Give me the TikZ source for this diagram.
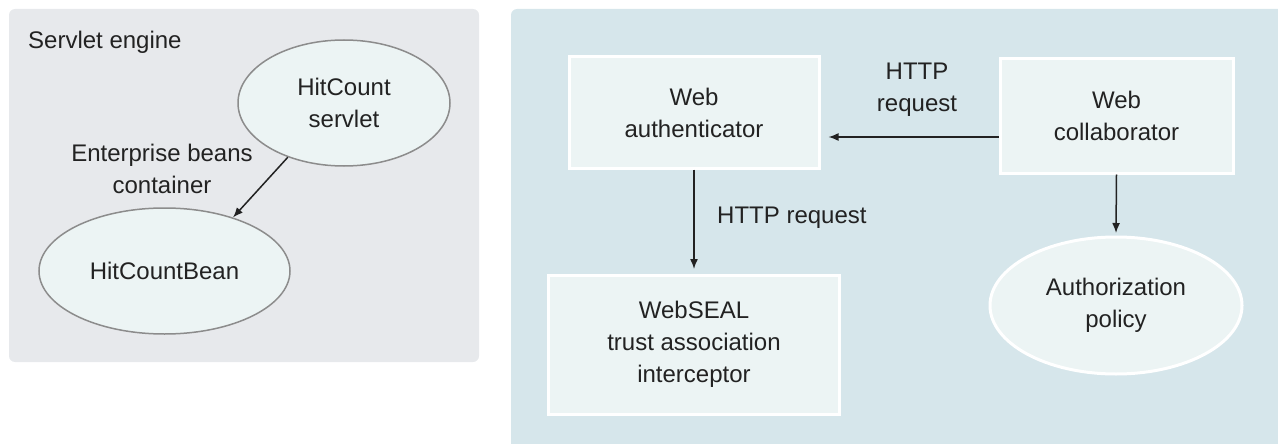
\documentclass[tikz,border=0pt]{standalone}
\usepackage{fontspec}
\setmainfont{Liberation Sans}
\usetikzlibrary{shapes.geometric,arrows.meta}
\definecolor{panelL}{HTML}{E7E9EC}
\definecolor{panelR}{HTML}{D6E6EB}
\definecolor{nodefill}{HTML}{ECF4F4}
\definecolor{ellline}{HTML}{8C8C8C}
\definecolor{txt}{HTML}{222222}
\tikzset{
  x=1pt,y=-1pt,
  every node/.style={font=\fontsize{24}{32}\selectfont, text=txt, align=center, inner sep=0pt},
  lellipse/.style={ellipse, draw=ellline, line width=1.5pt, fill=nodefill, inner xsep=-12pt},
  wbox/.style={rectangle, draw=white, line width=3pt, fill=nodefill},
  wellipse/.style={ellipse, draw=white, line width=3pt, fill=nodefill, inner xsep=0pt},
  conn/.style={draw=txt, line width=1.5pt, -{Latex[length=10pt,width=8pt]}},
}
\begin{document}
\begin{tikzpicture}
\useasboundingbox (0,0) rectangle (1278,444);
% panels
\fill[panelL, rounded corners=6pt] (9,9) rectangle (479,362);
\fill[panelR, rounded corners=6pt] (511,9) rectangle (1290,460);
\node[anchor=west] (title) at (28,42) {Servlet engine};
% left nodes
\node[lellipse, minimum width=212pt, minimum height=126pt] (servlet) at (344,103) {HitCount\\servlet};
\node[lellipse, minimum width=251pt, minimum height=126pt] (bean) at (164.5,271) {HitCountBean};
\node (eblabel) at (162,169) {Enterprise beans\\container};
\draw[conn] (servlet.-136) -- (bean.38);
% right nodes
\node[wbox, minimum width=250pt, minimum height=111pt] (auth) at (694,112.5) {Web\\authenticator};
\node[wbox, minimum width=233pt, minimum height=114pt] (collab) at (1116.5,116) {Web\\collaborator};
\node[wbox, minimum width=291pt, minimum height=139pt] (webseal) at (694,344.5) {WebSEAL\\trust association\\interceptor};
\node[wellipse, minimum width=252pt, minimum height=137pt] (policy) at (1116,305.5) {Authorization\\policy};
\coordinate (a1) at (828.5,137);
\draw[conn] (collab.west |- a1) -- (a1);
\node (http1) at (917,90) {HTTP\\request};
\coordinate (a2) at (694,269);
\draw[conn] (auth.south) -- (a2);
\node[anchor=west] (http2) at (717,218) {HTTP request};
\coordinate (a3) at (1116,233);
\draw[conn] (collab.south) -- (a3);
\end{tikzpicture}
\end{document}
